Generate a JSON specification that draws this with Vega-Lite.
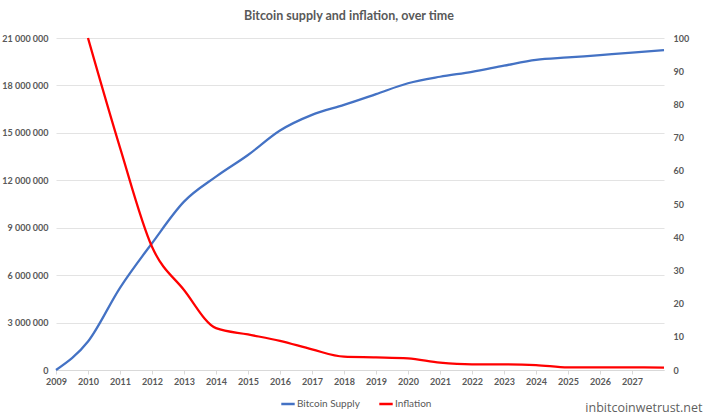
{
  "$schema": "https://vega.github.io/schema/vega-lite/v6.json",
  "autosize": "none",
  "width": 608,
  "height": 332,
  "padding": {"left": 56, "top": 38, "right": 45, "bottom": 46},
  "background": "white",
  "title": {
    "text": "Bitcoin supply and inflation, over time",
    "anchor": "middle",
    "frame": "group",
    "dx": -11,
    "offset": 11,
    "fontSize": 12.5,
    "font": "Lato, sans-serif",
    "fontWeight": "bold",
    "color": "#595959"
  },
  "config": {
    "locale": {"number": {"decimal": ".", "thousands": " ", "grouping": [3], "currency": ["", ""]}},
    "view": {"stroke": null},
    "font": "Lato, sans-serif"
  },
  "data": {
    "values": [
      {"year": 2009, "series": "Bitcoin Supply", "value": 0},
      {"year": 2010, "series": "Bitcoin Supply", "value": 1800000},
      {"year": 2011, "series": "Bitcoin Supply", "value": 5200000},
      {"year": 2012, "series": "Bitcoin Supply", "value": 8020000},
      {"year": 2013, "series": "Bitcoin Supply", "value": 10650000},
      {"year": 2014, "series": "Bitcoin Supply", "value": 12230000},
      {"year": 2015, "series": "Bitcoin Supply", "value": 13600000},
      {"year": 2016, "series": "Bitcoin Supply", "value": 15150000},
      {"year": 2017, "series": "Bitcoin Supply", "value": 16140000},
      {"year": 2018, "series": "Bitcoin Supply", "value": 16770000},
      {"year": 2019, "series": "Bitcoin Supply", "value": 17450000},
      {"year": 2020, "series": "Bitcoin Supply", "value": 18140000},
      {"year": 2021, "series": "Bitcoin Supply", "value": 18550000},
      {"year": 2022, "series": "Bitcoin Supply", "value": 18860000},
      {"year": 2023, "series": "Bitcoin Supply", "value": 19250000},
      {"year": 2024, "series": "Bitcoin Supply", "value": 19620000},
      {"year": 2025, "series": "Bitcoin Supply", "value": 19770000},
      {"year": 2026, "series": "Bitcoin Supply", "value": 19920000},
      {"year": 2027, "series": "Bitcoin Supply", "value": 20070000},
      {"year": 2028, "series": "Bitcoin Supply", "value": 20230000},
      {"year": 2010, "series": "Inflation", "value": 100},
      {"year": 2011, "series": "Inflation", "value": 67},
      {"year": 2012, "series": "Inflation", "value": 37.1},
      {"year": 2013, "series": "Inflation", "value": 24.1},
      {"year": 2014, "series": "Inflation", "value": 12.6},
      {"year": 2015, "series": "Inflation", "value": 10.7},
      {"year": 2016, "series": "Inflation", "value": 8.8},
      {"year": 2017, "series": "Inflation", "value": 6.2},
      {"year": 2018, "series": "Inflation", "value": 4.0},
      {"year": 2019, "series": "Inflation", "value": 3.8},
      {"year": 2020, "series": "Inflation", "value": 3.5},
      {"year": 2021, "series": "Inflation", "value": 2.2},
      {"year": 2022, "series": "Inflation", "value": 1.7},
      {"year": 2023, "series": "Inflation", "value": 1.7},
      {"year": 2024, "series": "Inflation", "value": 1.5},
      {"year": 2025, "series": "Inflation", "value": 0.8},
      {"year": 2026, "series": "Inflation", "value": 0.8},
      {"year": 2027, "series": "Inflation", "value": 0.8},
      {"year": 2028, "series": "Inflation", "value": 0.75}
    ]
  },
  "encoding": {
    "x": {
      "field": "year",
      "type": "quantitative",
      "scale": {"domain": [2009, 2028], "nice": false, "zero": false},
      "axis": {
        "title": "inbitcoinwetrust.net",
        "titleAnchor": "end",
        "titleAlign": "right",
        "titleBaseline": "alphabetic",
        "titleX": 646,
        "titleY": 41,
        "titleFont": "Open Sans, sans-serif",
        "titleFontSize": 12.5,
        "titleFontWeight": "normal",
        "titleColor": "#5f5f5f",
        "values": [2009, 2010, 2011, 2012, 2013, 2014, 2015, 2016, 2017, 2018, 2019, 2020, 2021, 2022, 2023, 2024, 2025, 2026, 2027],
        "format": "d",
        "grid": false,
        "domainColor": "#d9d9d9",
        "tickColor": "#d9d9d9",
        "tickSize": 4,
        "labelPadding": 3,
        "labelFontSize": 9,
        "labelFontWeight": "bold",
        "labelColor": "#595959",
        "labelFlush": false
      }
    },
    "color": {
      "field": "series",
      "type": "nominal",
      "scale": {"domain": ["Bitcoin Supply", "Inflation"], "range": ["#4472C4", "#FF0000"]},
      "legend": {
        "title": null,
        "orient": "none",
        "direction": "horizontal",
        "legendX": 224,
        "legendY": 358,
        "symbolType": "stroke",
        "symbolStrokeWidth": 2.5,
        "symbolSize": 180,
        "labelFontSize": 10,
        "labelColor": "#595959",
        "labelOffset": 1,
        "columnPadding": 14
      }
    }
  },
  "layer": [
    {
      "transform": [{"filter": "datum.series === 'Bitcoin Supply'"}],
      "mark": {"type": "line", "interpolate": "monotone", "strokeWidth": 2.25},
      "encoding": {
        "y": {
          "field": "value",
          "type": "quantitative",
          "scale": {"domain": [0, 21000000], "nice": false},
          "axis": {
            "title": null,
            "values": [0, 3000000, 6000000, 9000000, 12000000, 15000000, 18000000, 21000000],
            "format": ",d",
            "domain": false,
            "ticks": false,
            "gridColor": "#e3e3e3",
            "gridWidth": 1,
            "labelPadding": 8,
            "labelFontSize": 9,
            "labelFontWeight": "bold",
            "labelColor": "#595959"
          }
        }
      }
    },
    {
      "transform": [{"filter": "datum.series === 'Inflation'"}],
      "mark": {"type": "line", "interpolate": "monotone", "strokeWidth": 2.25},
      "encoding": {
        "y": {
          "field": "value",
          "type": "quantitative",
          "scale": {"domain": [0, 100], "nice": false},
          "axis": {
            "title": null,
            "orient": "right",
            "values": [0, 10, 20, 30, 40, 50, 60, 70, 80, 90, 100],
            "grid": false,
            "domain": false,
            "ticks": false,
            "labelPadding": 9,
            "labelFontSize": 9,
            "labelFontWeight": "bold",
            "labelColor": "#595959"
          }
        }
      }
    }
  ],
  "resolve": {"scale": {"y": "independent"}}
}
